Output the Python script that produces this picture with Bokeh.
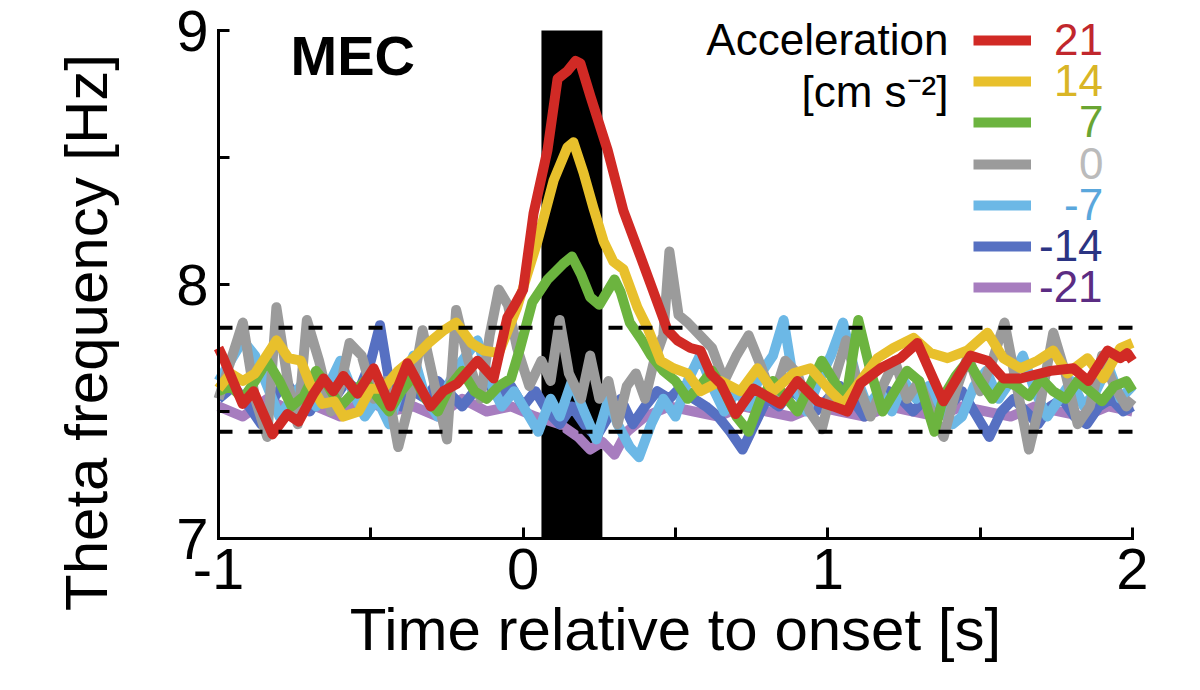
import math
from bokeh.plotting import figure
from bokeh.models import (Range1d, FixedTicker, Label, Legend, LegendItem,
                          BoxAnnotation)
from bokeh.embed import file_html
from bokeh.resources import INLINE

FONT = "Liberation Sans"

# ---------------- data ----------------
ACCEL_LABELS = ["21", "14", "7", "0", "-7", "-14", "-21"]
LINE_COLORS = ["#D12A25", "#E8C02C", "#6CB43F", "#9B9B9B", "#6CB8E6", "#5670C2", "#A77DBF"]
TEXT_COLORS = ["#C1272D", "#D9B526", "#6AA532", "#BBBBBB", "#5AA7DC", "#2B3483", "#5B2C83"]

X_MIN, X_MAX = -1.0, 2.0
Y_MIN, Y_MAX = 7.0, 9.0
STIM_START, STIM_END = 0.06, 0.26
THRESH_HI, THRESH_LO = 7.83, 7.42

T_21 = [-1.0, -0.984, -0.921, -0.885, -0.823, -0.774, -0.737, -0.688, -0.655, -0.623,
        -0.590, -0.544, -0.491, -0.436, -0.380, -0.304, -0.262, -0.216, -0.150, -0.097,
        -0.052, -0.032, 0.0, 0.034, 0.080, 0.113, 0.145, 0.172, 0.188, 0.221,
        0.277, 0.329, 0.385, 0.428, 0.474, 0.506, 0.549, 0.582, 0.615, 0.648,
        0.697, 0.756, 0.844, 0.900, 0.966, 1.018, 1.064, 1.107, 1.173, 1.238,
        1.294, 1.379, 1.468, 1.524, 1.576, 1.632, 1.731, 1.806, 1.855, 1.918,
        1.960, 1.983, 2.0]
F_21 = [7.75, 7.71, 7.53, 7.58, 7.41, 7.49, 7.46, 7.57, 7.63, 7.58,
        7.64, 7.57, 7.67, 7.52, 7.69, 7.52, 7.58, 7.61, 7.70, 7.63,
        7.87, 7.91, 7.98, 8.28, 8.53, 8.81, 8.84, 8.88, 8.87, 8.74,
        8.53, 8.29, 8.11, 7.97, 7.82, 7.78, 7.75, 7.74, 7.65, 7.61,
        7.49, 7.59, 7.53, 7.62, 7.54, 7.52, 7.50, 7.61, 7.67, 7.71,
        7.77, 7.54, 7.72, 7.70, 7.63, 7.63, 7.66, 7.67, 7.62, 7.74,
        7.71, 7.73, 7.70]

T_14 = [-1.0, -0.96, -0.92, -0.88, -0.81, -0.77, -0.73, -0.70, -0.66, -0.62,
        -0.59, -0.54, -0.50, -0.46, -0.41, -0.36, -0.31, -0.26, -0.22, -0.17,
        -0.13, -0.08, -0.02, 0.047, 0.10, 0.145, 0.165, 0.198, 0.231, 0.264,
        0.296, 0.329, 0.375, 0.408, 0.451, 0.493, 0.539, 0.582, 0.648, 0.713,
        0.769, 0.821, 0.887, 0.943, 1.009, 1.051, 1.107, 1.163, 1.215, 1.281,
        1.337, 1.393, 1.458, 1.524, 1.576, 1.632, 1.688, 1.740, 1.786, 1.852,
        1.904, 1.960, 2.0]
F_14 = [7.59, 7.65, 7.62, 7.65, 7.78, 7.71, 7.70, 7.61, 7.53, 7.54,
        7.48, 7.50, 7.59, 7.59, 7.66, 7.71, 7.77, 7.82, 7.85, 7.77,
        7.74, 7.73, 7.91, 8.17, 8.41, 8.54, 8.56, 8.44, 8.30, 8.17,
        8.09, 8.06, 7.91, 7.83, 7.70, 7.67, 7.65, 7.58, 7.62, 7.58,
        7.67, 7.58, 7.65, 7.67, 7.58, 7.53, 7.62, 7.71, 7.75, 7.79,
        7.73, 7.71, 7.74, 7.81, 7.71, 7.67, 7.70, 7.74, 7.65, 7.71,
        7.63, 7.75, 7.77]

T_7 = [-1.0, -0.96, -0.92, -0.88, -0.84, -0.80, -0.76, -0.72, -0.68, -0.64,
       -0.60, -0.56, -0.52, -0.48, -0.44, -0.40, -0.36, -0.32, -0.28, -0.24,
       -0.20, -0.16, -0.12, -0.08, -0.04,
       -0.01, 0.03, 0.08, 0.13, 0.16, 0.19, 0.22, 0.25, 0.28, 0.30,
       0.32, 0.35, 0.39, 0.42, 0.46, 0.50, 0.54, 0.58, 0.62, 0.66,
       0.70, 0.74, 0.78, 0.82, 0.86, 0.90, 0.94, 0.98, 1.02, 1.06,
       1.10, 1.14, 1.18, 1.22, 1.26, 1.30, 1.35, 1.38,
       1.42, 1.46, 1.50, 1.54, 1.58, 1.62, 1.66, 1.70, 1.74, 1.78,
       1.82, 1.86, 1.90, 1.94, 1.98, 2.0]
F_7 = [7.58, 7.60, 7.55, 7.62, 7.70, 7.62, 7.52, 7.56, 7.66, 7.60,
       7.52, 7.57, 7.62, 7.56, 7.50, 7.58, 7.64, 7.55, 7.50, 7.60,
       7.66, 7.58, 7.55, 7.60, 7.63,
       7.75, 7.93, 8.02, 8.08, 8.11, 8.04, 7.95, 7.92, 7.98, 8.02,
       7.97, 7.85, 7.78, 7.72, 7.66, 7.62, 7.55, 7.60, 7.66, 7.58,
       7.48, 7.42, 7.55, 7.62, 7.56, 7.50, 7.60, 7.70, 7.62, 7.55,
       7.86, 7.66, 7.50, 7.58, 7.66, 7.62, 7.42, 7.56,
       7.64, 7.70, 7.62, 7.55, 7.62, 7.60, 7.56, 7.63, 7.58, 7.55,
       7.62, 7.58, 7.54, 7.60, 7.62, 7.58]

T_0 = [-1.0, -0.96, -0.92, -0.88, -0.84, -0.81, -0.77, -0.74, -0.71, -0.67,
       -0.63, -0.60, -0.57, -0.53, -0.49, -0.45, -0.41, -0.37, -0.33, -0.29,
       -0.25, -0.22, -0.18, -0.14, -0.11, -0.08, -0.05, -0.02, 0.02, 0.06,
       0.09, 0.12, 0.15, 0.19, 0.22, 0.25, 0.28, 0.31, 0.34, 0.37,
       0.40, 0.43, 0.46, 0.48, 0.51, 0.54, 0.58, 0.62, 0.66, 0.70,
       0.74, 0.78, 0.82, 0.86, 0.90, 0.94, 0.98, 1.02, 1.06, 1.10,
       1.14, 1.18, 1.22, 1.26, 1.30, 1.34, 1.38, 1.42, 1.46, 1.50,
       1.54, 1.58, 1.62, 1.66, 1.70, 1.74, 1.78, 1.82, 1.86, 1.90,
       1.94, 1.98, 2.0]
F_0 = [7.55, 7.70, 7.85, 7.55, 7.40, 7.91, 7.60, 7.45, 7.86, 7.70,
       7.50, 7.60, 7.77, 7.72, 7.55, 7.62, 7.36, 7.55, 7.82, 7.60,
       7.39, 7.90, 7.70, 7.55, 7.80, 7.98, 7.92, 7.75, 7.60, 7.70,
       7.62, 7.86, 7.65, 7.55, 7.72, 7.55, 7.62, 7.45, 7.60, 7.65,
       7.55, 7.70, 7.80, 8.13, 7.88, 7.85, 7.80, 7.75, 7.62, 7.72,
       7.80, 7.68, 7.55, 7.70, 7.65, 7.50, 7.43, 7.62, 7.78, 7.60,
       7.48, 7.60, 7.70, 7.55, 7.62, 7.50, 7.40, 7.58, 7.72, 7.58,
       7.70, 7.85, 7.60, 7.35, 7.55, 7.81, 7.65, 7.45, 7.52, 7.72,
       7.60, 7.52, 7.55]

T_M7 = [-1.0, -0.96, -0.92, -0.88, -0.84, -0.80, -0.76, -0.72, -0.68, -0.64,
        -0.60, -0.56, -0.52, -0.48, -0.44, -0.40, -0.36, -0.32, -0.28, -0.24,
        -0.20, -0.15, -0.11, -0.07, -0.03, 0.01, 0.05, 0.09, 0.12, 0.16,
        0.20, 0.24, 0.28, 0.31, 0.35, 0.38, 0.42, 0.46, 0.50, 0.54,
        0.58, 0.62, 0.66, 0.70, 0.74, 0.78, 0.82, 0.855, 0.89, 0.93,
        0.97, 1.01, 1.05, 1.09, 1.13, 1.17, 1.21, 1.25, 1.29, 1.33,
        1.37, 1.41, 1.44, 1.48, 1.52, 1.56, 1.60, 1.64, 1.68, 1.72,
        1.76, 1.80, 1.84, 1.88, 1.92, 1.96, 2.0]
F_M7 = [7.62, 7.70, 7.78, 7.72, 7.60, 7.48, 7.55, 7.62, 7.52, 7.60,
        7.70, 7.58, 7.48, 7.55, 7.45, 7.60, 7.72, 7.55, 7.48, 7.62,
        7.70, 7.78, 7.62, 7.52, 7.58, 7.50, 7.42, 7.55, 7.48, 7.62,
        7.50, 7.39, 7.55, 7.45, 7.36, 7.32, 7.45, 7.55, 7.48, 7.62,
        7.72, 7.60, 7.50, 7.58, 7.52, 7.65, 7.72, 7.86, 7.60, 7.50,
        7.62, 7.72, 7.85, 7.65, 7.52, 7.58, 7.50, 7.62, 7.55, 7.60,
        7.52, 7.45, 7.48, 7.60, 7.66, 7.55, 7.62, 7.72, 7.58, 7.48,
        7.55, 7.62, 7.52, 7.58, 7.68, 7.55, 7.60]

T_M14 = [-1.0, -0.95, -0.90, -0.86, -0.82, -0.78, -0.74, -0.70, -0.66, -0.62,
         -0.58, -0.54, -0.50, -0.47, -0.44, -0.40, -0.36, -0.32, -0.28, -0.24,
         -0.20, -0.16, -0.12, -0.08, -0.04, 0.00, 0.04, 0.08, 0.12, 0.16,
         0.20, 0.24, 0.28, 0.32, 0.36, 0.40, 0.44, 0.48, 0.52, 0.56,
         0.60, 0.64, 0.68, 0.72, 0.76, 0.80, 0.84, 0.88, 0.92, 0.96,
         1.00, 1.04, 1.08, 1.12, 1.16, 1.20, 1.24, 1.28, 1.32, 1.36,
         1.40, 1.44, 1.48, 1.53, 1.57, 1.61, 1.65, 1.69, 1.73, 1.77,
         1.81, 1.85, 1.89, 1.93, 1.97, 2.0]
F_M14 = [7.55, 7.60, 7.52, 7.45, 7.55, 7.62, 7.55, 7.50, 7.58, 7.55,
         7.62, 7.58, 7.70, 7.84, 7.62, 7.52, 7.58, 7.55, 7.62, 7.57,
         7.52, 7.58, 7.62, 7.55, 7.60, 7.52, 7.58, 7.50, 7.45, 7.52,
         7.45, 7.40, 7.48, 7.55, 7.45, 7.52, 7.58, 7.55, 7.60, 7.55,
         7.52, 7.48, 7.42, 7.35, 7.45, 7.55, 7.52, 7.58, 7.55, 7.50,
         7.55, 7.60, 7.55, 7.48, 7.52, 7.58, 7.55, 7.50, 7.55, 7.48,
         7.52, 7.58, 7.50, 7.40, 7.50, 7.55, 7.50, 7.45, 7.52, 7.55,
         7.48, 7.45, 7.52, 7.55, 7.50, 7.52]

T_M21 = [-1.0, -0.92, -0.84, -0.76, -0.68, -0.60, -0.52, -0.44, -0.36, -0.28,
         -0.20, -0.12, -0.04, 0.04, 0.12, 0.18, 0.22, 0.26, 0.30, 0.34,
         0.40, 0.48, 0.56, 0.64, 0.72, 0.80, 0.88, 0.96, 1.04, 1.12,
         1.20, 1.28, 1.36, 1.44, 1.52, 1.60, 1.68, 1.76, 1.84, 1.92, 2.0]
F_M21 = [7.52, 7.48, 7.55, 7.50, 7.52, 7.48, 7.55, 7.50, 7.52, 7.48,
         7.55, 7.50, 7.52, 7.48, 7.45, 7.40, 7.35, 7.38, 7.33, 7.42,
         7.48, 7.52, 7.50, 7.48, 7.52, 7.50, 7.48, 7.52, 7.50, 7.48,
         7.52, 7.50, 7.48, 7.52, 7.50, 7.48, 7.52, 7.50, 7.48, 7.52, 7.50]

SERIES_T = [T_21, T_14, T_7, T_0, T_M7, T_M14, T_M21]
SERIES_F = [F_21, F_14, F_7, F_0, F_M7, F_M14, F_M21]

X_TICKS = [-1, 0, 1, 2]
X_MINOR = [-0.5, 0.5, 1.5]
Y_TICKS = [7, 8, 9]
Y_MINOR = [7.5, 8.5]

# ---------------- layout (pixels of the 1200x690 picture) ----------------
W, H = 1200, 690
AX_LEFT_PX, AX_RIGHT_PX = 218, 1132     # x = -1 and x = 2
AX_TOP_PX, AX_BOTTOM_PX = 30, 538       # y = 9 and y = 7
sx = (AX_RIGHT_PX - AX_LEFT_PX) / (X_MAX - X_MIN)
sy = (AX_BOTTOM_PX - AX_TOP_PX) / (Y_MAX - Y_MIN)


def xpx(px):
    return X_MIN + (px - AX_LEFT_PX) / sx


def ypx(py):
    return Y_MAX - (py - AX_TOP_PX) / sy


p = figure(width=W, height=H, output_backend="svg", toolbar_location=None,
           x_range=Range1d(xpx(0), xpx(W)), y_range=Range1d(ypx(H), ypx(0)),
           min_border=0)
p.outline_line_color = None
p.grid.visible = False
p.background_fill_color = "white"
p.border_fill_color = "white"

p.add_layout(BoxAnnotation(left=STIM_START, right=STIM_END, bottom=Y_MIN, top=Y_MAX,
                           fill_color="black", fill_alpha=1.0, line_alpha=0,
                           level="underlay"))

renderers = {}
for i in reversed(range(len(ACCEL_LABELS))):
    r = p.line(SERIES_T[i], SERIES_F[i], line_color=LINE_COLORS[i], line_width=10,
               line_join="round", line_cap="butt")
    renderers[i] = r

p.segment(x0=[X_MIN, X_MIN], x1=[X_MAX, X_MAX], y0=[THRESH_HI, THRESH_LO],
          y1=[THRESH_HI, THRESH_LO], line_color="black", line_width=4,
          line_dash="14 16")

# axes, drawn at the data limits
p.xaxis.fixed_location = Y_MIN
p.xaxis.bounds = (X_MIN, X_MAX)
p.yaxis.fixed_location = X_MIN
p.yaxis.bounds = (Y_MIN, Y_MAX)
for ax in (p.xaxis[0], p.yaxis[0]):
    ax.axis_line_width = 3
    ax.axis_line_color = "black"
    ax.axis_line_cap = "square"
    ax.major_tick_line_width = 3
    ax.minor_tick_line_width = 3
    ax.major_tick_in = 11
    ax.major_tick_out = 0
    ax.minor_tick_in = 11
    ax.minor_tick_out = 0
    ax.major_label_text_font = FONT
    ax.major_label_text_font_size = "58px"
    ax.major_label_text_color = "black"

p.xaxis.ticker = FixedTicker(ticks=X_TICKS, minor_ticks=X_MINOR)
p.xaxis.major_label_overrides = {t: str(t) for t in X_TICKS}
p.xaxis.major_label_standoff = 10
p.xaxis.axis_label = "Time relative to onset [s]"
p.xaxis.axis_label_text_font = FONT
p.xaxis.axis_label_text_font_size = "60px"
p.xaxis.axis_label_text_font_style = "normal"
p.xaxis.axis_label_text_color = "black"
p.xaxis.axis_label_standoff = 4

p.yaxis.ticker = FixedTicker(ticks=Y_TICKS, minor_ticks=Y_MINOR)
p.yaxis.major_label_overrides = {t: str(t) for t in Y_TICKS}
p.yaxis.major_label_standoff = 10

# y axis title
p.add_layout(Label(x=xpx(86), y=ypx(332), text="Theta frequency [Hz]",
                   angle=math.pi / 2, text_align="center", text_baseline="middle",
                   text_font=FONT, text_font_size="60px", text_color="black"))

# panel title
p.add_layout(Label(x=xpx(290), y=ypx(55), text="MEC", text_align="left",
                   text_baseline="middle", text_font=FONT, text_font_size="56px",
                   text_font_style="bold", text_color="black"))

# legend heading
p.add_layout(Label(x=xpx(948), y=ypx(39), text="Acceleration", text_align="right",
                   text_baseline="middle", text_font=FONT, text_font_size="44px",
                   text_color="black"))
p.add_layout(Label(x=xpx(948), y=ypx(91), text="[cm s\u207b\u00b2]", text_align="right",
                   text_baseline="middle", text_font=FONT, text_font_size="44px",
                   text_color="black"))

# legend: one small legend per item so each number keeps its own colour
LEG_X = 973          # px of line start
LEG_TOP = 40         # px centre of first item
LEG_STEP = 41.2
ITEM_H = 50
GLYPH_W = 58
NUM_RIGHT = 72       # px from line end to right edge of numbers
for i, lab in enumerate(ACCEL_LABELS):
    w = sum((0.333 if ch == "-" else 0.556) * 44 for ch in lab)
    c = LEG_TOP + i * LEG_STEP
    vy = H - c - ITEM_H / 2
    leg = Legend(items=[LegendItem(label=lab, renderers=[renderers[i]])],
                 location=(LEG_X, vy), orientation="vertical",
                 label_text_color=TEXT_COLORS[i], label_text_font=FONT,
                 label_text_font_size="44px", glyph_width=GLYPH_W,
                 glyph_height=ITEM_H, label_height=ITEM_H,
                 label_standoff=int(round(NUM_RIGHT - w)),
                 padding=0, margin=0, spacing=0, border_line_alpha=0,
                 background_fill_alpha=0)
    p.add_layout(leg, "center")

open("out.html", "w").write(file_html(p, INLINE))
